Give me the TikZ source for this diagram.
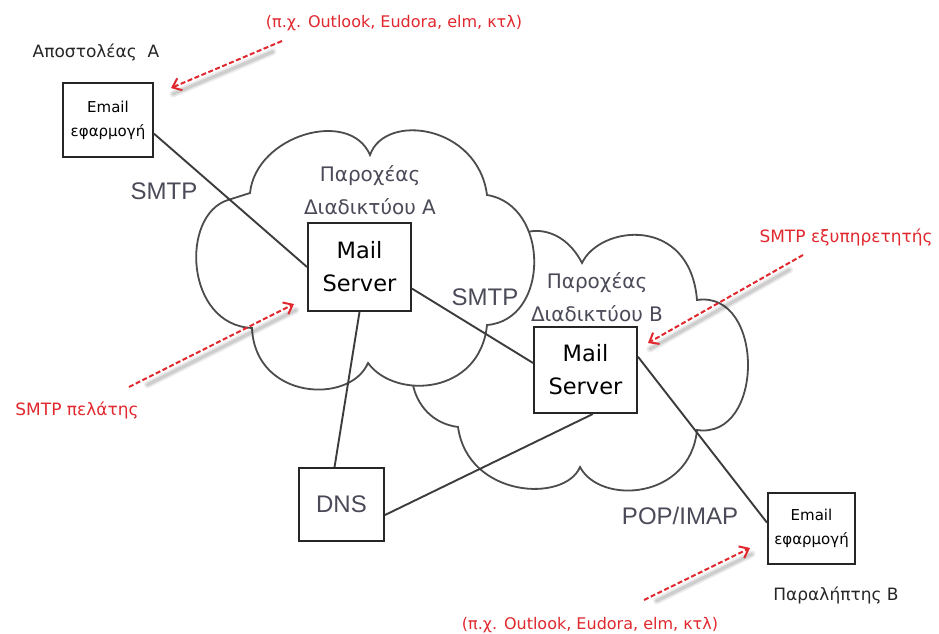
\documentclass[tikz,border=0pt]{standalone}
\usepackage{fontspec}
\setmainfont{DejaVu Sans}
\newfontfamily\arialf{Liberation Sans}
\usetikzlibrary{arrows.meta,calc}
\definecolor{redann}{HTML}{E0282E}
\definecolor{lblgray}{HTML}{4A4A58}
\definecolor{linegray}{HTML}{3C3C3C}
\begin{document}
\begin{tikzpicture}[x=1pt,y=-1pt,
  box/.style={draw=black!85,line width=2pt,fill=white,inner sep=0pt,align=center},
  cloudline/.style={draw=black!70,line width=1.8pt,fill=white},
  conn/.style={draw=linegray,line width=1.9pt},
  lbl/.style={font=\arialf\fontsize{24}{24}\selectfont,text=lblgray,inner sep=0pt},
  isp/.style={font=\fontsize{20}{33}\selectfont,text=lblgray,align=center,inner sep=0pt},
  ann/.style={font=\fontsize{16}{16}\selectfont,text=redann,inner sep=0pt},
  annarrow/.style={draw=redann,line width=2pt,dash pattern=on 5pt off 2.5pt,-{Straight Barb[length=8pt,width=13pt,line width=2pt]}},
  shadowA/.style={draw=black,opacity=0.08,line width=7pt,line cap=round},
  shadowB/.style={draw=black,opacity=0.12,line width=3.5pt,line cap=round},
  plain/.style={font=\fontsize{17}{17}\selectfont,text=black!85,inner sep=0pt},
  srv/.style={box,font=\fontsize{22.5}{33}\selectfont},
  app/.style={box,font=\fontsize{15}{24}\selectfont},
]
\useasboundingbox (0,0) rectangle (939,634);
\fill[white] (0,0) rectangle (939,634);

% cloud B (behind)
\path[cloudline] (505,250) .. controls (515,225) and (560,220) .. (582,263)
 .. controls (600,225) and (690,215) .. (697,300)
 .. controls (765,290) and (765,440) .. (697,430)
 .. controls (690,500) and (600,505) .. (580,467)
 .. controls (565,503) and (468,498) .. (458,427)
 .. controls (405,420) and (400,350) .. (430,340) -- cycle;

% cloud A (front)
\path[cloudline] (228,200) -- (250,193)
 .. controls (256,135) and (350,108) .. (370,155)
 .. controls (385,112) and (478,125) .. (487,195)
 .. controls (550,205) and (550,320) .. (487,325)
 .. controls (480,395) and (395,400) .. (368,363)
 .. controls (350,405) and (255,400) .. (252,328)
 .. controls (185,325) and (180,215) .. (228,200) -- cycle;

% boxes
\node[app, minimum width=90pt, minimum height=74pt] (emailA) at (108,120) {Email\\εφαρμογή};
\node[srv, minimum width=103pt, minimum height=88pt] (mailA) at (359.5,267) {Mail\\Server};
\node[srv, minimum width=103pt, minimum height=86pt] (mailB) at (585.5,370) {Mail\\Server};
\node[box, minimum width=85pt, minimum height=73pt, font=\arialf\fontsize{24}{24}\selectfont, text=lblgray] (dns) at (341.5,504.5) {DNS};
\node[app, minimum width=87pt, minimum height=71pt] (emailB) at (811.5,528.5) {Email\\εφαρμογή};

% connectors
\draw[conn] ($(emailA.north east)!0.68!(emailA.south east)$) -- (mailA.west);
\draw[conn] ($(mailA.north east)!0.74!(mailA.south east)$) -- ($(mailB.north west)!0.42!(mailB.south west)$);
\draw[conn] ($(mailB.north east)!0.35!(mailB.south east)$) -- ($(emailB.north west)!0.42!(emailB.south west)$);
\draw[conn] (mailA.south) -- ($(dns.north west)!0.42!(dns.north east)$);
\draw[conn] ($(mailB.south west)!0.57!(mailB.south east)$) -- ($(dns.north east)!0.64!(dns.south east)$);

% labels
\node[lbl] (smtp1) at (164,191) {SMTP};
\node[lbl] (smtp2) at (485,297) {SMTP};
\node[lbl] (popimap) at (680,516) {POP/IMAP};
\node[isp] (ispA) at (370,190) {Παροχέας\\Διαδικτύου A};
\node[isp] (ispB) at (597,297) {Παροχέας\\Διαδικτύου B};
\node[plain] (sender) at (96,52) {Αποστολέας\ \ A};
\node[plain] (receiver) at (836,595) {Παραλήπτης B};

% annotations
\node[ann] (annTop) at (394,23) {(π.χ. Outlook, Eudora, elm, κτλ)};
\node[ann] (annBot) at (590,625) {(π.χ. Outlook, Eudora, elm, κτλ)};
\node[ann,font=\fontsize{17}{17}\selectfont] (annSrv) at (846,237) {SMTP εξυπηρετητής};
\node[ann,font=\fontsize{17}{17}\selectfont] (annCli) at (77,410) {SMTP πελάτης};

\coordinate (a1s) at (282,41);  \coordinate (a1e) at (171,88);
\coordinate (a2s) at (129,387); \coordinate (a2e) at (294,304);
\coordinate (a3s) at (803,255); \coordinate (a3e) at (648,343);
\coordinate (a4s) at (644,600); \coordinate (a4e) at (750,548);

\foreach \s/\e in {a1s/a1e,a2s/a2e,a3s/a3e,a4s/a4e}{
  \draw[shadowA] ($(\s)!0.1!(\e)+(2,6)$) -- ($(\e)+(2,6)$);
  \draw[shadowB] ($(\s)!0.1!(\e)+(2,6)$) -- ($(\e)+(2,6)$);
}
\draw[annarrow] (a1s) -- (a1e);
\draw[annarrow] (a2s) -- (a2e);
\draw[annarrow] (a3s) -- (a3e);
\draw[annarrow] (a4s) -- (a4e);
\end{tikzpicture}
\end{document}
